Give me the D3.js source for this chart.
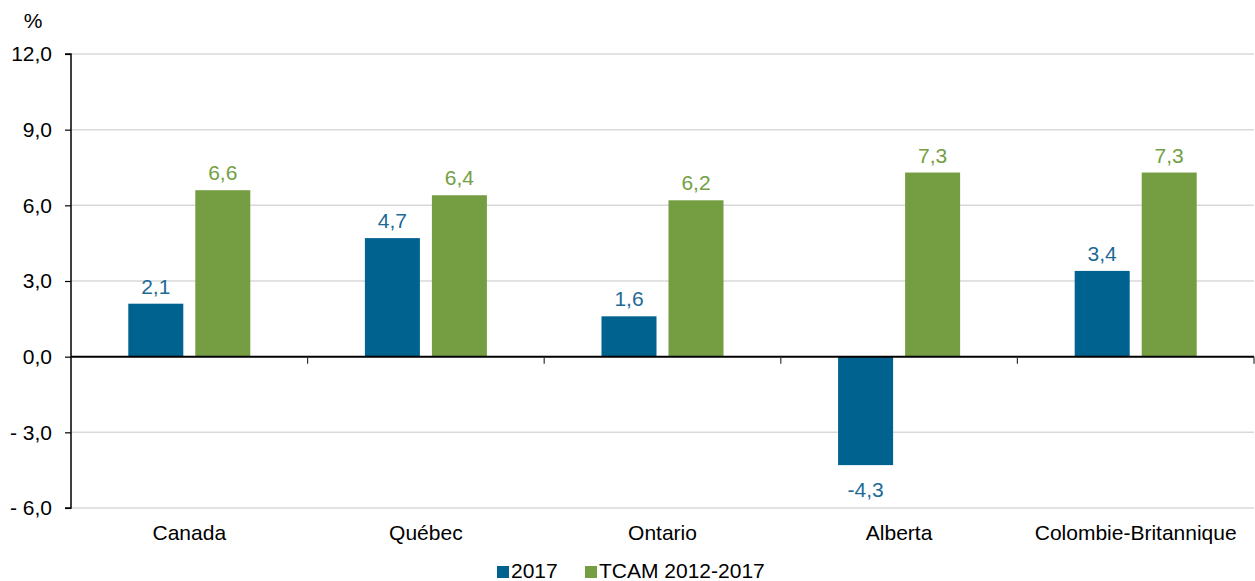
<!DOCTYPE html>
<html><head><meta charset="utf-8">
<script src="https://cdn.jsdelivr.net/npm/d3@7"></script>
<style>body{margin:0;background:#fff}svg{display:block;font-family:"Liberation Sans",Arial,sans-serif}</style>
</head><body><svg id="c" width="1255" height="581"></svg>
<script>
const categories = ["Canada","Québec","Ontario","Alberta","Colombie-Britannique"];
const seriesNames = ["2017","TCAM 2012-2017"];
const values2017 = [2.1, 4.7, 1.6, -4.3, 3.4];
const valuesTCAM = [6.6, 6.4, 6.2, 7.3, 7.3];
const yTicks = [-6, -3, 0, 3, 6, 9, 12];
const colors = ["#00628f", "#759e43"];
const labelColors = ["#1d6a96", "#72a043"];
const FS = 21;

const svg = d3.select("#c");
const m = {l:71, r:1254, t:54, b:508};
const x = d3.scaleBand().domain(categories).range([m.l, m.r]);
const y = d3.scaleLinear().domain([-6, 12]).range([m.b, m.t]);
const fmt = v => (v < 0 ? "- " : "") + Math.abs(v).toFixed(1).replace(".", ",");
const fmtL = v => v.toFixed(1).replace(".", ",");

// gridlines
svg.append("g").selectAll("line").data(yTicks.filter(d=>d!==0)).join("line")
  .attr("x1", m.l).attr("x2", m.r).attr("y1", d=>y(d)).attr("y2", d=>y(d))
  .attr("stroke", "#d9d9d9").attr("stroke-width", 1.5);

// y axis
const ya = svg.append("g").attr("transform", `translate(${m.l},0)`)
  .call(d3.axisLeft(y).tickValues(yTicks).tickFormat(fmt).tickSize(6).tickPadding(13));
ya.select(".domain").attr("stroke", "#000").attr("stroke-width", 1.5).attr("d", `M-6,${y(12)}H0V${y(-6)}H-6`);
ya.selectAll(".tick line").attr("stroke", "#000").attr("stroke-width", 1.2);
ya.selectAll("text").attr("font-size", FS).attr("fill", "#000").attr("font-family", "Liberation Sans, Arial, sans-serif");

svg.append("text").attr("x", 33).attr("y", 28).attr("text-anchor", "middle")
  .attr("font-size", FS).text("%");

// bars
const inner = d3.scaleBand().domain([0,1]).range([0, x.bandwidth()]).paddingInner(0.179).paddingOuter(0.855);
const series = [values2017, valuesTCAM];
series.forEach((vals, si) => {
  const g = svg.append("g");
  g.selectAll("rect").data(vals).join("rect")
    .attr("x", (d,i)=>x(categories[i]) + inner(si))
    .attr("width", inner.bandwidth())
    .attr("y", d=>y(Math.max(0,d)))
    .attr("height", d=>Math.abs(y(d)-y(0)))
    .attr("fill", colors[si]);
  g.selectAll("text").data(vals).join("text")
    .attr("x", (d,i)=>x(categories[i]) + inner(si) + inner.bandwidth()/2)
    .attr("y", d=> d>=0 ? y(d)-10 : y(d)+32)
    .attr("text-anchor", "middle").attr("font-size", FS).attr("fill", labelColors[si])
    .text(fmtL);
});

// zero line with category ticks
const xa = svg.append("g").attr("transform", `translate(0,${y(0)})`)
  .call(d3.axisBottom(x).tickSize(0).tickFormat(""));
xa.select(".domain").attr("stroke", "#000").attr("stroke-width", 2).attr("d", `M${m.l},0H${m.r}`);
svg.append("g").selectAll("line").data(d3.range(1, categories.length+1)).join("line")
  .attr("x1", i=>m.l + i*x.bandwidth()).attr("x2", i=>m.l + i*x.bandwidth())
  .attr("y1", y(0)).attr("y2", y(0)+7).attr("stroke", "#333").attr("stroke-width", 1.2);

// category labels
svg.append("g").selectAll("text").data(categories).join("text")
  .attr("x", d=>x(d)+x.bandwidth()/2).attr("y", 540)
  .attr("text-anchor", "middle").attr("font-size", FS).attr("fill", "#000").text(d=>d);

// legend
const leg = [{n:seriesNames[0], c:colors[0], x:497}, {n:seriesNames[1], c:colors[1], x:585}];
const lg = svg.append("g").selectAll("g").data(leg).join("g");
lg.append("rect").attr("x", d=>d.x).attr("y", 566).attr("width", 12).attr("height", 12).attr("fill", d=>d.c);
lg.append("text").attr("x", d=>d.x+14).attr("y", 578).attr("font-size", FS).text(d=>d.n);
</script></body></html>
